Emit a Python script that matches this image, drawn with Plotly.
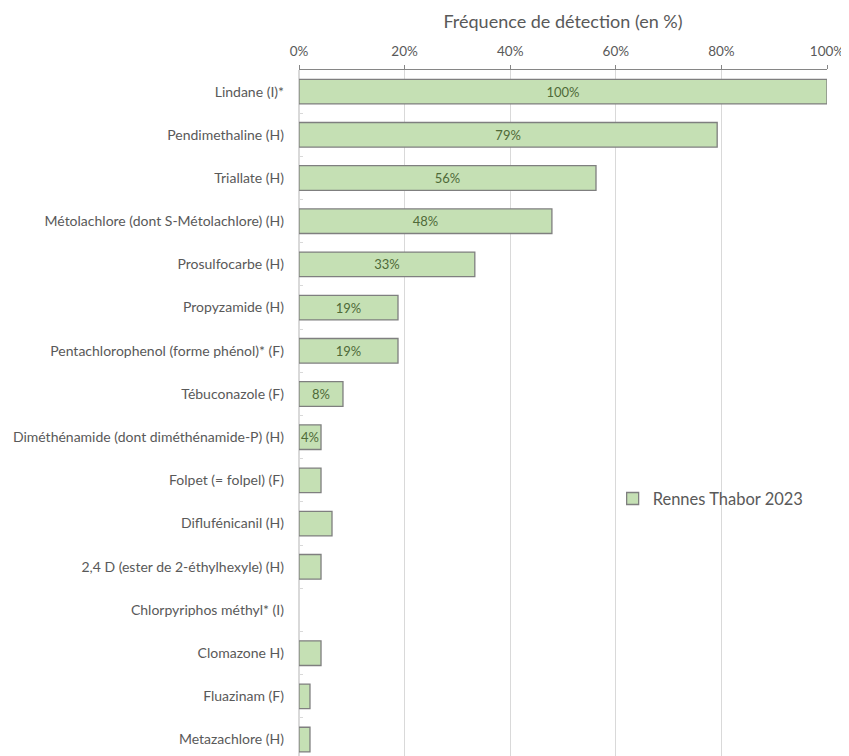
import plotly.graph_objects as go

categories = [
    "Lindane (I)*",
    "Pendimethaline (H)",
    "Triallate (H)",
    "Métolachlore (dont S-Métolachlore) (H)",
    "Prosulfocarbe (H)",
    "Propyzamide (H)",
    "Pentachlorophenol (forme phénol)* (F)",
    "Tébuconazole (F)",
    "Diméthénamide (dont diméthénamide-P) (H)",
    "Folpet (= folpel) (F)",
    "Diflufénicanil (H)",
    "2,4 D (ester de 2-éthylhexyle) (H)",
    "Chlorpyriphos méthyl* (I)",
    "Clomazone H)",
    "Fluazinam (F)",
    "Metazachlore (H)",
]
values = [100, 79.2, 56.25, 47.9, 33.3, 18.75, 18.75, 8.33, 4.17,
          4.17, 6.25, 4.17, 0, 4.17, 2.08, 2.08]
data_labels = ["100%", "79%", "56%", "48%", "33%", "19%", "19%", "8%", "4%",
               "", "", "", "", "", "", ""]
series_name = "Rennes Thabor 2023"
x_tick_values = [0, 20, 40, 60, 80, 100]
x_tick_labels = ["0%", "20%", "40%", "60%", "80%", "100%"]
x_title = "Fréquence de détection (en %)"

FONT = "Lato"
GREY = "#595959"

fig = go.Figure()
fig.add_trace(go.Bar(
    y=categories,
    x=values,
    orientation="h",
    name=series_name,
    width=0.57,
    marker=dict(color="#c5e0b4",
                line=dict(color="#7f7f7f",
                          width=[1.3 if v > 0 else 0 for v in values])),
    text=data_labels,
    textposition="inside",
    insidetextanchor="middle",
    textangle=0,
    textfont=dict(family=FONT, size=13, color="#4f6a38"),
    showlegend=True,
))

# page body has an 8px default margin: figure is offset by (8, 8)
fig.update_layout(
    width=841,
    height=748,
    margin=dict(l=291, r=22, t=62, b=0, autoexpand=False),
    paper_bgcolor="white",
    plot_bgcolor="white",
    font=dict(family=FONT, color=GREY),
    uniformtext=dict(minsize=13, mode="show"),
    showlegend=True,
    legend=dict(
        x=0.594, y=0.375, xanchor="left", yanchor="middle",
        font=dict(family=FONT, size=16.5, color=GREY),
        bgcolor="rgba(0,0,0,0)",
        itemwidth=30,
    ),
    xaxis=dict(
        side="top",
        range=[0, 100],
        tickmode="array",
        tickvals=x_tick_values,
        ticktext=x_tick_labels,
        tickfont=dict(family=FONT, size=13.5, color=GREY),
        ticklabelstandoff=4,
        title=dict(text=x_title, font=dict(family=FONT, size=18, color=GREY), standoff=9),
        showgrid=True,
        gridcolor="#d9d9d9",
        gridwidth=1,
        zeroline=True,
        zerolinecolor="#d9d9d9",
        showline=True,
        linecolor="#868686",
        linewidth=1,
        ticks="outside",
        ticklen=4,
        tickcolor="#868686",
        automargin=False,
    ),
    yaxis=dict(
        type="category",
        categoryorder="array",
        categoryarray=categories,
        range=[15.38, -0.5],
        tickfont=dict(family=FONT, size=14, color=GREY),
        ticks="inside",
        tickson="boundaries",
        ticklen=4,
        tickcolor="#d9d9d9",
        ticklabelstandoff=14,
        showgrid=False,
        zeroline=False,
        showline=False,
        automargin=False,
    ),
)

fig.write_html("out.html")
